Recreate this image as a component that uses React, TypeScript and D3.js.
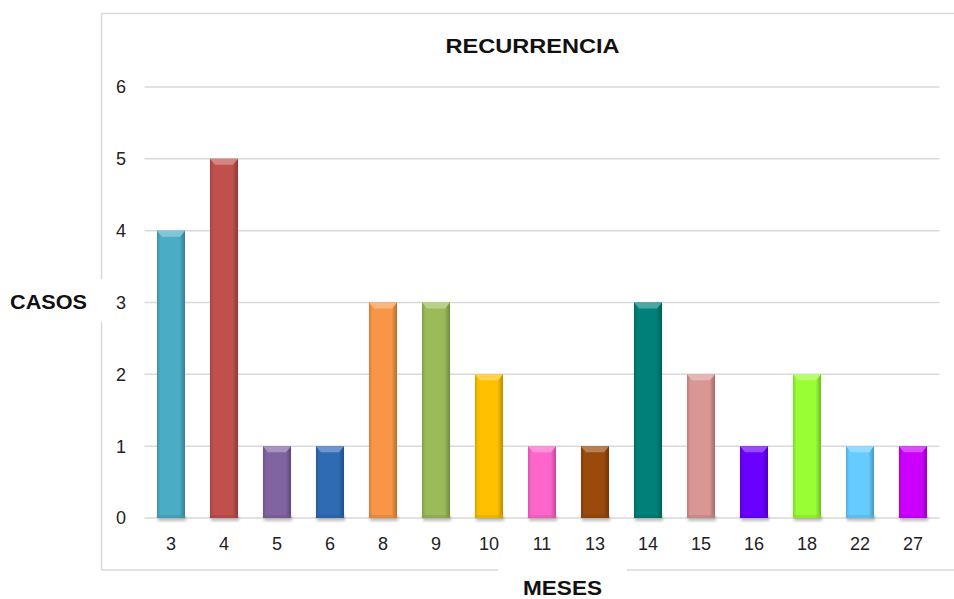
import React from "react";
import * as d3 from "d3";

// Recurrence cases per month
const meses = ["3", "4", "5", "6", "8", "9", "10", "11", "13", "14", "15", "16", "18", "22", "27"];
const casos = [4, 5, 1, 1, 3, 3, 2, 1, 1, 3, 2, 1, 2, 1, 1];
const colores = [
  "#4BACC6", "#C0504D", "#8064A2", "#2F6BB3", "#F79646", "#9BBB59", "#FFC000", "#FF66CC",
  "#9A4A0C", "#008078", "#DA9694", "#6A00FF", "#99FF33", "#66CCFF", "#CC00FF",
];
const yTicks = [0, 1, 2, 3, 4, 5, 6];

const W = 954;
const H = 599;
const plot = { left: 144.5, right: 939.5, top: 87, bottom: 518 };

export default function App() {
  const x = d3.scaleBand<string>().domain(meses).range([plot.left, plot.right]).paddingInner(0.47).paddingOuter(0.235);
  const y = d3.scaleLinear().domain([0, 6]).range([plot.bottom, plot.top]);
  const bw = x.bandwidth();
  const grid = "#d9d9d9";
  const font = "Liberation Sans, Arial, sans-serif";

  return (
    <div style={{ position: "absolute", left: 0, top: 0, width: W, height: H, background: "#fff" }}>
      <svg width={W} height={H} style={{ display: "block" }}>
        <defs>
          <filter id="sombra" x="-30%" y="-30%" width="160%" height="160%">
            <feGaussianBlur stdDeviation="1.5" />
          </filter>
          {colores.map((c, i) => {
            const base = d3.color(c)!;
            return (
              <linearGradient key={i} id={`g${i}`} x1="0" x2="1" y1="0" y2="0">
                <stop offset="0" stopColor={base.darker(0.5).formatHex()} />
                <stop offset="0.12" stopColor={base.formatHex()} />
                <stop offset="0.8" stopColor={base.formatHex()} />
                <stop offset="1" stopColor={base.darker(0.9).formatHex()} />
              </linearGradient>
            );
          })}
        </defs>

        {/* outer frame with openings for the axis titles */}
        <g stroke={grid} strokeWidth={1.5} fill="none">
          <line x1={101.5} x2={960} y1={13.5} y2={13.5} />
          <line x1={101.5} x2={101.5} y1={13.5} y2={279} />
          <line x1={101.5} x2={101.5} y1={322} y2={570} />
          <line x1={101.5} x2={498} y1={570} y2={570} />
          <line x1={627} x2={960} y1={570} y2={570} />
        </g>

        {/* horizontal gridlines */}
        {yTicks.map((t) => (
          <line key={t} x1={plot.left} x2={plot.right} y1={y(t)} y2={y(t)} stroke={grid} strokeWidth={1.5} />
        ))}

        {/* y tick labels */}
        {yTicks.map((t) => (
          <text key={t} x={126} y={y(t)} dy="0.36em" textAnchor="end" fontFamily={font} fontSize={18} fill="#222">
            {t}
          </text>
        ))}

        {/* bars */}
        {meses.map((m, i) => {
          const x0 = x(m)!;
          const yt = y(casos[i]);
          const h = plot.bottom - yt;
          const base = d3.color(colores[i])!;
          const light = d3.interpolateRgb(colores[i], "#ffffff")(0.3);
          const cap = 6;
          return (
            <g key={m}>
              <rect x={x0 + 1} y={plot.bottom - 2} width={bw} height={5} fill="#888" opacity={0.55} filter="url(#sombra)" />
              <rect x={x0} y={yt} width={bw} height={h} fill={`url(#g${i})`} />
              <path
                d={`M${x0},${yt} L${x0 + bw},${yt} L${x0 + bw - 5},${yt + cap} L${x0 + 5},${yt + cap} Z`}
                fill={light}
              />
              <rect x={x0} y={plot.bottom - 3} width={bw} height={3} fill={base.darker(0.4).formatHex()} opacity={0.6} />
            </g>
          );
        })}

        {/* x tick labels */}
        {meses.map((m) => (
          <text key={m} x={x(m)! + bw / 2} y={550} textAnchor="middle" fontFamily={font} fontSize={18} fill="#222">
            {m}
          </text>
        ))}

        <text x={532.5} y={53} textAnchor="middle" fontFamily={font} fontSize={21} fontWeight="bold" fill="#111" textLength={174} lengthAdjust="spacingAndGlyphs">
          RECURRENCIA
        </text>
        <text x={10} y={309} fontFamily={font} fontSize={21} fontWeight="bold" fill="#111" textLength={77} lengthAdjust="spacingAndGlyphs">
          CASOS
        </text>
        <text x={523} y={595} fontFamily={font} fontSize={20} fontWeight="bold" fill="#111" textLength={79} lengthAdjust="spacingAndGlyphs">
          MESES
        </text>
      </svg>
    </div>
  );
}
